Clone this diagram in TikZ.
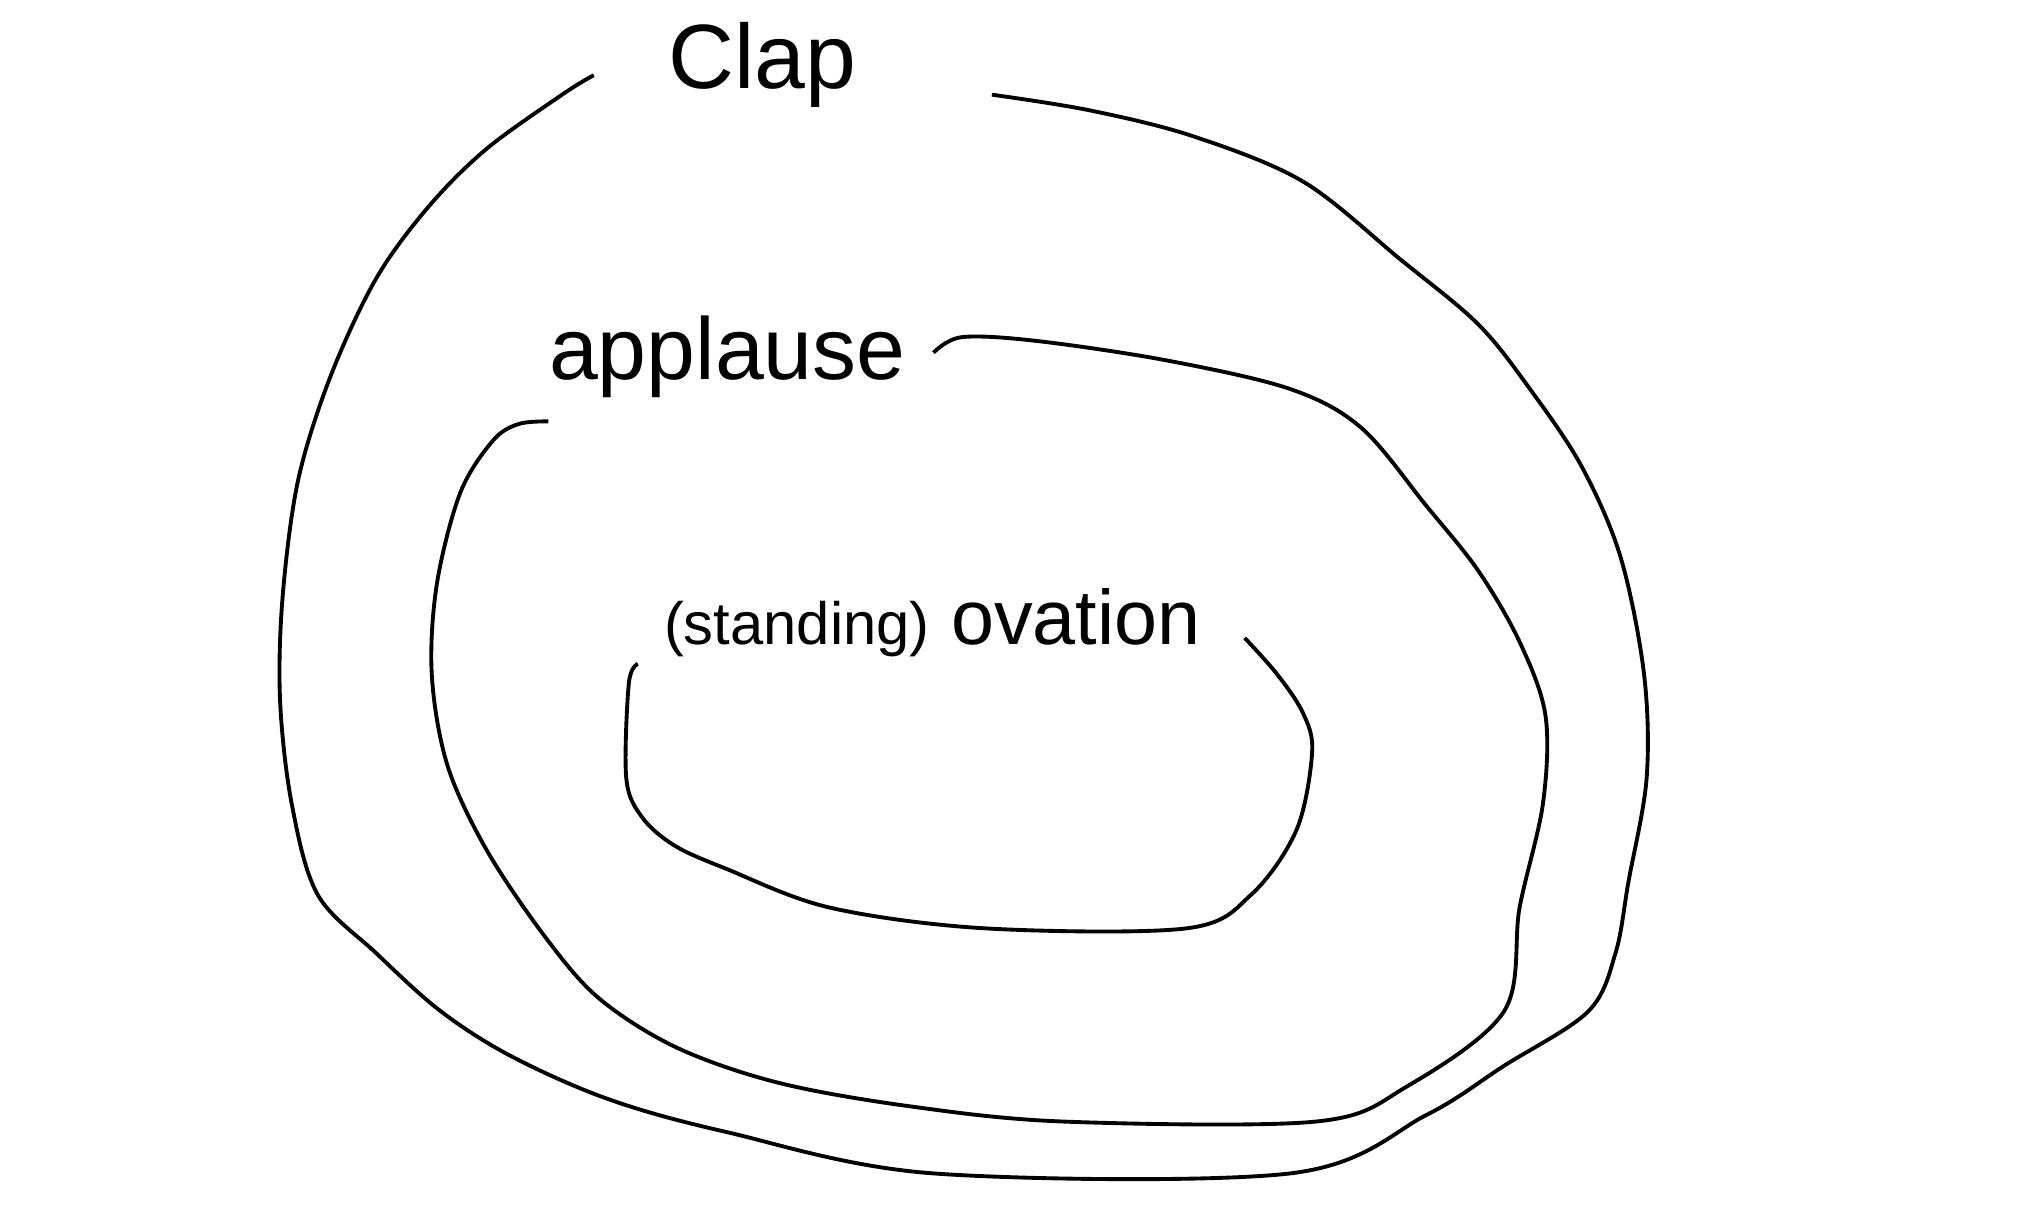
\documentclass[tikz,border=0pt]{standalone}
\usepackage{fontspec}
\setmainfont{Liberation Sans}

\begin{document}
\begin{tikzpicture}[x=0.012966cm, y=-0.012966cm,
  ring/.style={line width=1.1pt, smooth, tension=0.55},
  word/.style={anchor=base, inner sep=0pt}]
  \useasboundingbox (0,0) rectangle (1568,930);

  % Outer ring
  \draw[ring] plot coordinates {(458,58) (435,72) (375,115) (330,160) (290,215)
    (255,290) (230,370) (218,460) (216,540) (225,620) (245,690) (290,735)
    (340,780) (395,815) (470,848) (560,873) (720,905) (995,905) (1100,860)
    (1160,822) (1225,780) (1246,735) (1256,680) (1270,600) (1268,520)
    (1250,430) (1220,360) (1180,300) (1140,250) (1080,200) (1005,140)
    (920,105) (840,85) (765,73)};

  % Middle ring
  \draw[ring] plot coordinates {(423,325) (400,327) (380,340) (355,380)
    (337,450) (333,520) (345,590) (375,655) (420,722) (462,770) (522,808)
    (600,835) (700,853) (820,865) (1015,865) (1085,838) (1160,780)
    (1172,700) (1190,620) (1192,552) (1172,495) (1140,440) (1100,390)
    (1050,330) (995,300) (900,278) (800,263) (742,260) (720,272)};

  % Inner ring
  \draw[ring] plot coordinates {(492,512) (485,527) (483,600) (495,630)
    (520,652) (560,670) (640,700) (760,716) (915,716) (965,690) (1000,640)
    (1012,580) (1005,550) (985,520) (960,492)};

  % Labels
  \node[word, font=\fontsize{26}{30}\selectfont] (clap) at (588,68) {Clap};
  \node[word, font=\fontsize{25}{30}\selectfont] (applause) at (561,293) {applause};
  \node[word, font=\fontsize{22}{26}\selectfont] (ovation) at (719,497)
    {{\fontsize{17}{20}\selectfont(standing)} ovation};
\end{tikzpicture}
\end{document}
